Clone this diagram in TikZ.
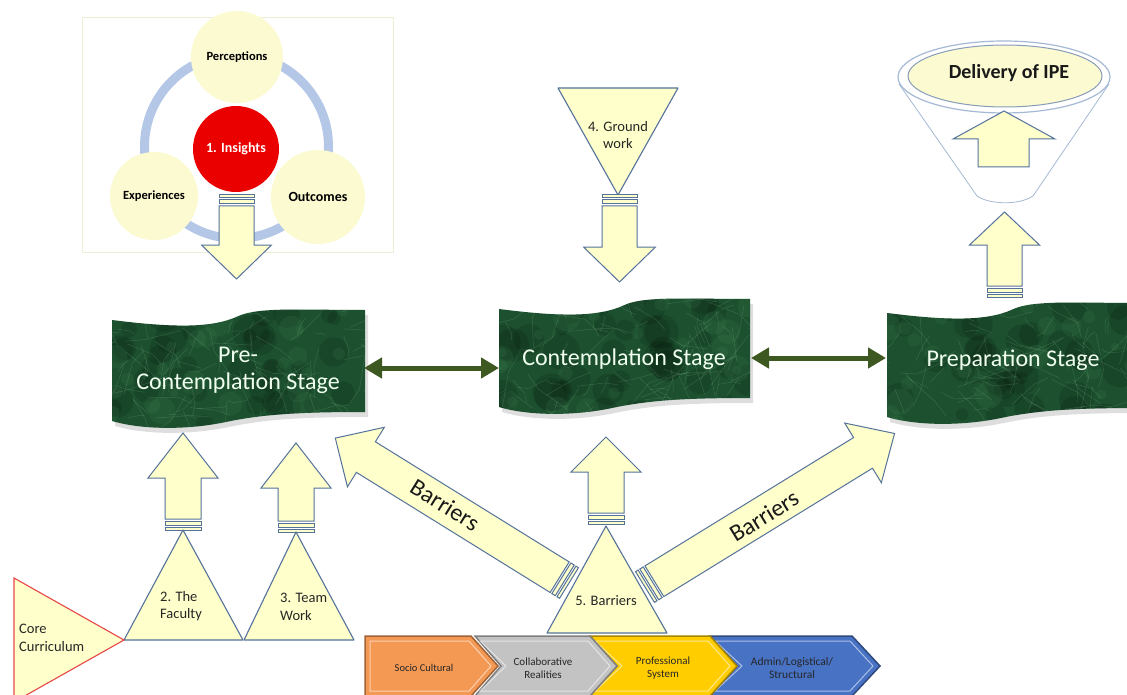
\documentclass[tikz,border=0pt]{standalone}
\usepackage{fontspec}
\setmainfont{Carlito}
\usetikzlibrary{arrows.meta}
\definecolor{ly}{RGB}{255,255,204}
\definecolor{cy}{RGB}{252,250,208}
\definecolor{ab}{RGB}{84,114,154}
\definecolor{ringc}{RGB}{180,199,231}
\definecolor{ins}{RGB}{235,0,0}
\definecolor{mDark}{RGB}{28,80,46}
\definecolor{mMid}{RGB}{60,125,80}
\definecolor{mLight}{RGB}{150,200,160}
\definecolor{dblc}{RGB}{62,88,34}
\definecolor{cOr}{RGB}{244,153,84}
\definecolor{cGr}{RGB}{195,195,195}
\definecolor{cYe}{RGB}{255,205,0}
\definecolor{cBl}{RGB}{72,114,196}
\definecolor{coreRed}{RGB}{232,70,70}
\definecolor{func}{RGB}{165,185,212}
\definecolor{framec}{RGB}{238,238,215}
\tikzset{
  blk/.style={fill=ly, draw=ab, line width=1pt, line join=miter},
  tri/.style={fill=ly, draw=ab, line width=1.1pt, line join=round},
  lbl/.style={font=\fontsize{14.5}{17.5}\selectfont, align=center, text=black!85, inner sep=0},
  stg/.style={font=\fontsize{24}{27}\selectfont, text=white!94!green, align=center, inner sep=0},
  circ/.style={circle, fill=cy, inner sep=0, font=\bfseries\fontsize{12.5}{14}\selectfont},
  chevtxt/.style={font=\fontsize{11}{13}\selectfont, align=center, inner sep=0, text=black!85},
  barr/.style={font=\fontsize{24}{26}\selectfont, inner sep=0, text=black!90},
  dblarrow/.style={draw=dblc, line width=5pt, {Triangle[length=18pt,width=20pt]}-{Triangle[length=18pt,width=20pt]}}
}
% striped block arrow: base, angle, length, body half width, head half width, head length
\newcommand\sarrow[6]{%
  \begin{scope}[shift={#1}, rotate=#2]
    \draw[blk] (0,-#4) rectangle (3,#4);
    \draw[blk] (5,-#4) rectangle (9,#4);
    \draw[blk] (11,-#4) -- ({#3-#6},-#4) -- ({#3-#6},-#5) -- (#3,0) -- ({#3-#6},#5) -- ({#3-#6},#4) -- (11,#4) -- cycle;
  \end{scope}}
% stage wave shape: L T R B options
\newcommand\stage[5]{%
  \path[#5] (#1,{#2+10}) .. controls ({#1+0.25*(#3-#1)},{#2+18}) and ({#1+0.4*(#3-#1)},{#2+18}) .. ({#1+0.5*(#3-#1)},{#2+6})
    .. controls ({#1+0.58*(#3-#1)},{#2-3}) and ({#1+0.75*(#3-#1)},{#2}) .. (#3,#2)
    -- (#3,{#4-16}) .. controls ({#1+0.75*(#3-#1)},{#4-16}) and ({#1+0.6*(#3-#1)},{#4-14}) .. ({#1+0.45*(#3-#1)},{#4-6})
    .. controls ({#1+0.3*(#3-#1)},{#4+2}) and ({#1+0.12*(#3-#1)},{#4+2}) .. (#1,{#4-7}) -- cycle;}
\newcommand\marble[5]{%
  \begin{scope}[shift={(3,5)}]\stage{#1}{#2}{#3}{#4}{fill=black, opacity=0.13}\end{scope}
  \stage{#1}{#2}{#3}{#4}{fill=mDark}
  \begin{scope}
    \stage{#1}{#2}{#3}{#4}{clip}
    \pgfmathsetseed{#5}
    \foreach \k in {1,...,40}{%
      \pgfmathsetmacro\xa{#1+rnd*(#3-#1)}\pgfmathsetmacro\ya{#2+rnd*(#4-#2)}\pgfmathsetmacro\rr{5+rnd*14}%
      \fill[black, opacity=0.12] (\xa,\ya) circle[radius=\rr];}
    \foreach \k in {1,...,25}{%
      \pgfmathsetmacro\xa{#1+rnd*(#3-#1)}\pgfmathsetmacro\ya{#2+rnd*(#4-#2)}\pgfmathsetmacro\rr{4+rnd*10}%
      \fill[mMid, opacity=0.2] (\xa,\ya) circle[radius=\rr];}
    \foreach \k in {1,...,90}{%
      \pgfmathsetmacro\xa{#1+rnd*(#3-#1)}\pgfmathsetmacro\ya{#2+rnd*(#4-#2)}\pgfmathsetmacro\an{rnd*360}\pgfmathsetmacro\ln{8+rnd*30}%
      \draw[mLight, opacity=0.22, line width=0.5pt] (\xa,\ya) -- ++(\an:\ln) -- ++({\an+40*rnd}:{\ln/2});}
  \end{scope}}
% chevron: left, corner, tip, notch, colour
\newcommand\chev[5]{%
  \fill[#5, draw=#5!65!black, line width=1.5pt, line join=miter] (#1,636) -- (#2,636) -- (#3,666) -- (#2,696) -- (#1,696) -- (#4,666) -- cycle;
  \draw[white, opacity=0.55, line width=1pt] ({#1+5},641) -- ({#2-2},641) -- ({#3-7},666) -- ({#2-2},691) -- ({#1+5},691) -- ({#4+5},666) -- cycle;}

\begin{document}
\begin{tikzpicture}[x=1pt,y=-1pt]
\useasboundingbox (0,0) rectangle (1127,695);
\fill[white] (0,0) rectangle (1127,695);
\clip (0,0) rectangle (1127,695);

% ---------- insights cluster ----------
\draw[framec, line width=0.8pt] (82,17) rectangle (393,252);
\draw[ringc, line width=9pt] (236.5,146.5) circle[radius=92];
\node[circ, minimum size=92pt] (perc) at (237,57) {Perceptions};
\node[circ, minimum size=88pt] (expe) at (154,196) {Experiences};
\node[circ, minimum size=94pt, font=\bfseries\fontsize{14}{16}\selectfont] (outc) at (318,197) {Outcomes};
\node[circle, fill=ins, minimum size=86pt, inner sep=0, text=white, font=\bfseries\fontsize{14}{16}\selectfont] (insi) at (236,149) {1. Insights};
\sarrow{(236.5,195)}{-90}{84}{17.5}{35}{34}

% ---------- ground work ----------
\draw[tri] (558,88) -- (678,88) -- (618,195) -- cycle;
\node[lbl] (grnd) at (618,135) {4. Ground\\work};
\sarrow{(619.5,195)}{-90}{87}{17.5}{36}{35}

% ---------- funnel ----------
\fill[white] (899,84) -- (977,196) .. controls (990,205) and (1020,205) .. (1033,196) -- (1109,84) -- cycle;
\draw[func, line width=0.8pt] (899,84) -- (977,196) .. controls (990,205) and (1020,205) .. (1033,196) -- (1109,84);
\draw[func, fill=white, line width=1.2pt] (1004,77) ellipse [x radius=106, y radius=36];
\draw[ab!70, fill=cy, line width=1pt] (1005,76) ellipse [x radius=97, y radius=31];
\node[font=\bfseries\fontsize{20}{22}\selectfont, inner sep=0, text=black!90] (deli) at (1009,73) {Delivery of IPE};
\draw[blk] (1004,111) -- (1055,139) -- (1029,139) -- (1029,167) -- (978,167) -- (978,139) -- (953,139) -- cycle;
\sarrow{(1004.5,297)}{90}{85}{17.5}{35}{33}

% ---------- stages ----------
\marble{112}{310}{365}{428}{11}
\marble{499}{299}{750}{414}{23}
\marble{887}{303}{1140}{424}{37}
\node[stg] (pre) at (238,370) {Pre-\\Contemplation Stage};
\node[stg] (con) at (624,359) {Contemplation Stage};
\node[stg] (prp) at (1013,360) {Preparation Stage};
\coordinate (preE) at (364,368);
\coordinate (conW) at (499,368);
\coordinate (conE) at (751,358);
\coordinate (prpW) at (886,358);
\draw[dblarrow] (preE) -- (conW);
\draw[dblarrow] (conE) -- (prpW);

% ---------- lower arrows ----------
\sarrow{(183,530)}{90}{97}{18}{35}{45}
\sarrow{(296,532)}{90}{89}{18}{35}{45}
\sarrow{(606,524)}{90}{87}{18}{35}{35}
\sarrow{(569,583)}{148.2}{275}{18}{35}{36}
\sarrow{(645,587)}{31.6}{293}{18}{35}{37}
\node[barr, rotate=-31.8] (barL) at (445,505) {Barriers};
\node[barr, rotate=31.6] (barR) at (764,516) {Barriers};

% ---------- chevrons ----------
\chev{710}{852}{880}{737}{cBl}
\chev{590}{710}{737}{617}{cYe}
\chev{475}{590}{617}{501}{cGr}
\chev{365}{471}{498}{365}{cOr}
\node[chevtxt, font=\fontsize{10.5}{13}\selectfont] (soc) at (424,668) {Socio Cultural};
\node[chevtxt] (col) at (543,668) {Collaborative\\Realities};
\node[chevtxt] (pro) at (663,668) {Professional\\System};
\node[chevtxt, font=\fontsize{11.5}{13.5}\selectfont] (adm) at (792,668) {Admin/Logistical/\\Structural};

% ---------- triangles ----------
\draw[tri] (183,530) -- (243,640) -- (124,640) -- cycle;
\draw[tri] (296,532) -- (354,640) -- (244,640) -- cycle;
\draw[tri] (606,526) -- (667,633) -- (547,633) -- cycle;
\draw[fill=ly, draw=coreRed, line width=1.1pt] (14,578) -- (124,640) -- (14,702) -- cycle;
\node[lbl, align=left, anchor=west] (fac) at (160,606) {2. The\\Faculty};
\node[lbl, align=left, anchor=west] (team) at (280,607) {3. Team\\Work};
\node[lbl] (bar5) at (606,601) {5. Barriers};
\node[lbl, align=left, anchor=west] (core) at (19,638) {Core\\Curriculum};
\end{tikzpicture}
\end{document}
